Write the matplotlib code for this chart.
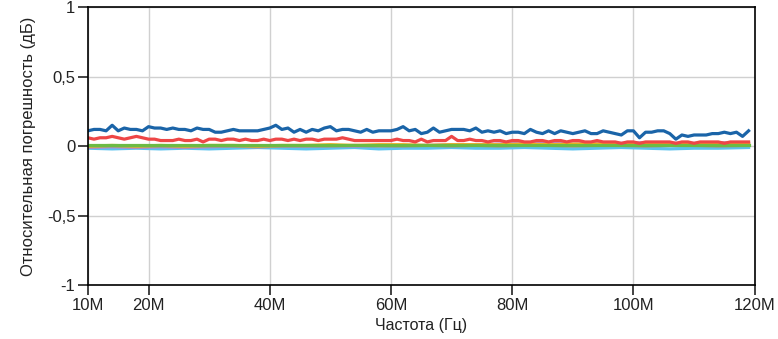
import numpy as np
import matplotlib
matplotlib.use("Agg")
import matplotlib.pyplot as plt
from matplotlib.ticker import FuncFormatter

plt.rcParams['font.family'] = ['Liberation Sans', 'DejaVu Sans']

# frequency grid, MHz
freq = list(range(10, 120))

blue = [0.11, 0.12, 0.12, 0.11, 0.15, 0.11, 0.13, 0.12, 0.12, 0.11, 0.14, 0.13, 0.13, 0.12, 0.13, 0.12, 0.12, 0.11, 0.13, 0.12, 0.12, 0.10, 0.10,
        0.11, 0.12, 0.11, 0.11, 0.11, 0.11, 0.12, 0.13, 0.15, 0.12, 0.13, 0.10, 0.12, 0.10, 0.12, 0.11, 0.13, 0.14, 0.11, 0.12, 0.12, 0.11, 0.10,
        0.12, 0.10, 0.11, 0.11, 0.11, 0.12, 0.14, 0.11, 0.12, 0.09, 0.10, 0.13, 0.10, 0.11, 0.12, 0.12, 0.12, 0.11, 0.13, 0.10, 0.11, 0.10,
        0.11, 0.09, 0.10, 0.10, 0.09, 0.12, 0.10, 0.09, 0.11, 0.09, 0.11, 0.10, 0.09, 0.10, 0.11, 0.09, 0.09, 0.11, 0.10, 0.09, 0.08, 0.11,
        0.11, 0.06, 0.10, 0.10, 0.11, 0.11, 0.09, 0.05, 0.08, 0.07, 0.08, 0.08, 0.08, 0.09, 0.09, 0.10, 0.09, 0.10, 0.07, 0.11]

red = [0.06, 0.05, 0.06, 0.06, 0.07, 0.06, 0.05, 0.06, 0.07, 0.06, 0.05, 0.05, 0.04, 0.04, 0.04, 0.05, 0.04, 0.04, 0.05, 0.03, 0.05, 0.05, 0.04,
       0.05, 0.05, 0.04, 0.05, 0.04, 0.04, 0.05, 0.04, 0.05, 0.05, 0.04, 0.05, 0.04, 0.05, 0.05, 0.04, 0.05, 0.05, 0.05, 0.06, 0.05, 0.04, 0.04,
       0.04, 0.04, 0.04, 0.04, 0.04, 0.05, 0.04, 0.04, 0.03, 0.05, 0.03, 0.04, 0.04, 0.04, 0.07, 0.04, 0.04, 0.05, 0.04, 0.04, 0.03, 0.04,
       0.04, 0.03, 0.04, 0.04, 0.03, 0.03, 0.04, 0.04, 0.03, 0.04, 0.04, 0.03, 0.04, 0.04, 0.03, 0.03, 0.04, 0.03, 0.03, 0.03, 0.02, 0.03,
       0.03, 0.02, 0.03, 0.03, 0.03, 0.03, 0.03, 0.02, 0.03, 0.03, 0.02, 0.03, 0.03, 0.03, 0.03, 0.02, 0.03, 0.03, 0.03, 0.03]

# near-zero traces, sampled coarser
freq_c = [10, 14, 18, 22, 26, 30, 34, 38, 42, 46, 50, 54, 58, 62, 66, 70, 74, 78, 82, 86, 90, 94, 98, 102, 106, 110, 114, 119]
cyan = [-0.015, -0.02, -0.015, -0.02, -0.015, -0.02, -0.015, -0.01, -0.015, -0.02, -0.015, -0.01, -0.02, -0.015, -0.015, -0.01,
        -0.015, -0.015, -0.01, -0.015, -0.02, -0.015, -0.01, -0.015, -0.02, -0.015, -0.015, -0.01]
purple = [-0.01, -0.005, -0.01, -0.005, -0.01, -0.005, 0.0, -0.005, 0.0, 0.0, 0.005, 0.0, 0.005, 0.005, 0.005, 0.01,
          0.01, 0.015, 0.02, 0.02, 0.015, 0.02, 0.02, 0.025, 0.02, 0.02, 0.025, 0.02]
gray = [-0.005, 0.0, -0.005, 0.0, -0.005, 0.0, 0.0, -0.005, 0.0, 0.0, 0.0, 0.005, 0.0, 0.0, 0.005, 0.0,
        0.005, 0.0, 0.005, 0.005, 0.0, 0.005, 0.005, 0.0, 0.005, 0.005, 0.0, 0.005]
orange = [0.0, 0.005, 0.0, 0.005, 0.0, 0.005, 0.005, 0.0, 0.005, 0.005, 0.01, 0.005, 0.01, 0.01, 0.005, 0.01,
          0.01, 0.01, 0.015, 0.01, 0.015, 0.015, 0.01, 0.015, 0.02, 0.015, 0.02, 0.015]
green = [0.005, 0.005, 0.005, 0.005, 0.005, 0.005, 0.005, 0.005, 0.005, 0.005, 0.005, 0.005, 0.005, 0.005, 0.005, 0.005,
         0.005, 0.005, 0.005, 0.005, 0.005, 0.005, 0.005, 0.005, 0.005, 0.005, 0.005, 0.005]

xticks = [10, 20, 40, 60, 80, 100, 120]
yticks = [-1, -0.5, 0, 0.5, 1]

fig = plt.figure(figsize=(7.78, 3.39), dpi=100)
ax = fig.add_axes([0.113, 0.159, 0.857, 0.82])

lw = 2.3
ax.plot(freq_c, cyan, color='#5bc2ee', lw=lw)
ax.plot(freq_c, purple, color='#b48ad6', lw=lw)
ax.plot(freq_c, gray, color='#9a9a9a', lw=lw)
ax.plot(freq_c, orange, color='#f2b21b', lw=lw)
ax.plot(freq_c, green, color='#6cbb45', lw=lw)
ax.plot(freq, red, color='#ee4646', lw=lw)
ax.plot(freq, blue, color='#1a64a8', lw=lw)

ax.set_xlim(10, 120)
ax.set_ylim(-1, 1)
ax.set_xticks(xticks)
ax.set_yticks(yticks)
ax.xaxis.set_major_formatter(FuncFormatter(lambda v, p: '%dM' % v))
ax.yaxis.set_major_formatter(FuncFormatter(lambda v, p: ('%g' % v).replace('.', ',')))

ax.grid(True, color='#d0d0d0', lw=1)
ax.set_axisbelow(True)
for s in ax.spines.values():
    s.set_color('black')
    s.set_linewidth(1.2)
ax.tick_params(direction='out', length=7, width=1.2, colors='#222222', labelcolor='#222222', labelsize=12)
ax.tick_params(axis='x', pad=2)
ax.tick_params(axis='y', pad=2)

ax.set_xlabel('Частота (Гц)', fontsize=11.5, color='#222222', labelpad=4)
ax.set_ylabel('Относительная погрешность (дБ)', fontsize=12, color='#222222', labelpad=8)

fig.savefig('out.png', dpi=100)
